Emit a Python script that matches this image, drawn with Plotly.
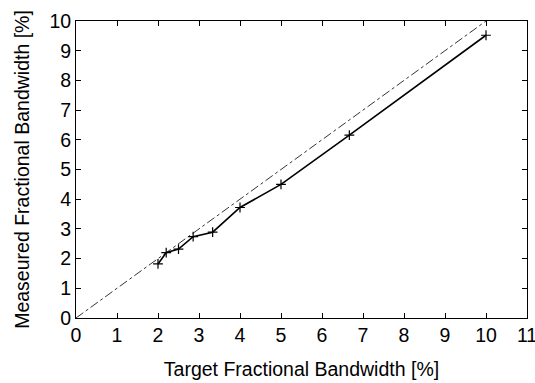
import plotly.graph_objects as go

target = [2.0, 2.2, 2.5, 2.857, 3.333, 4.0, 5.0, 6.667, 10.0]
measured = [1.82, 2.2, 2.32, 2.74, 2.89, 3.72, 4.5, 6.16, 9.52]
ref_x = [0, 10]
ref_y = [0, 10]
xticks = list(range(0, 12))
yticks = list(range(0, 11))

fig = go.Figure()
fig.add_trace(go.Scatter(x=ref_x, y=ref_y, mode="lines",
                         line=dict(color="black", width=0.8, dash="dashdot"),
                         showlegend=False))
fig.add_trace(go.Scatter(x=target, y=measured, mode="lines+markers",
                         line=dict(color="black", width=1.6),
                         marker=dict(symbol="cross-thin", size=7,
                                     line=dict(color="black", width=1.2)),
                         showlegend=False))

font = dict(family="Liberation Sans, Arial, sans-serif", size=19.5, color="black")
axis_common = dict(showgrid=False, zeroline=False, showline=True, mirror="ticks",
                   linecolor="black", linewidth=1, ticks="inside", ticklen=5,
                   tickcolor="black", tickwidth=1, tickfont=font,
                   ticklabeloverflow="allow", automargin=False)

fig.update_xaxes(range=[0, 11], tickvals=xticks, ticktext=[str(v) for v in xticks],
                 title=dict(text="Target Fractional Bandwidth [%]", font=font, standoff=16),
                 **axis_common)
fig.update_yaxes(range=[0, 10], tickvals=yticks, ticktext=[str(v) for v in yticks],
                 title=dict(text="Measeured Fractional Bandwidth [%]", font=font, standoff=14),
                 **axis_common)

fig.update_layout(width=535, height=383, margin=dict(l=76, r=8, t=21, b=65),
                  plot_bgcolor="white", paper_bgcolor="white", font=font)
fig.write_html("out.html")
